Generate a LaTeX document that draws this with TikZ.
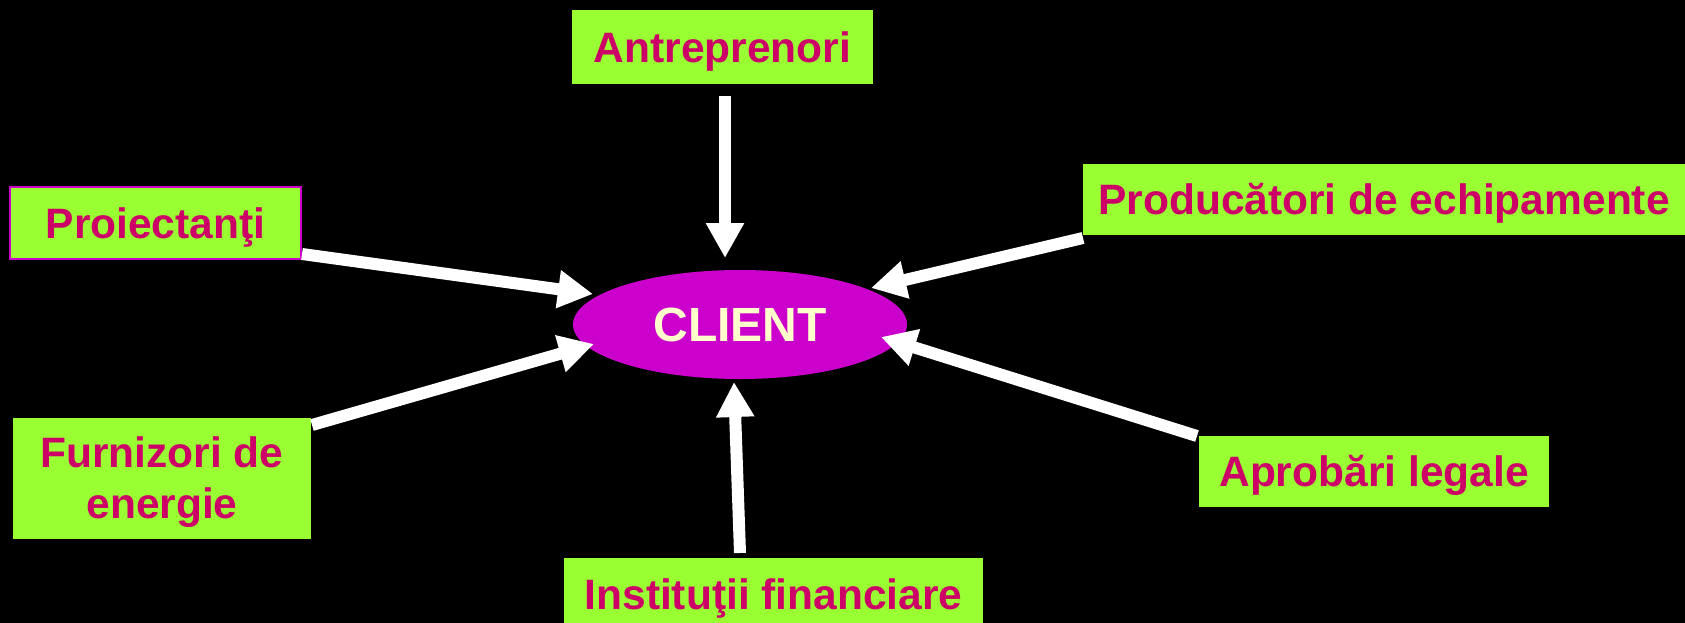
\documentclass[tikz,border=0pt]{standalone}
\usepackage{fontspec}
\setmainfont{Liberation Sans}
\usetikzlibrary{shapes.geometric,arrows.meta}
\definecolor{boxgreen}{HTML}{99FF33}
\definecolor{labelpink}{HTML}{CC0066}
\definecolor{clientmag}{HTML}{CC00CC}
\definecolor{clientcream}{HTML}{FFFFCC}
\tikzset{
  labelbox/.style={rectangle, fill=boxgreen, text=labelpink, inner sep=0pt,
    font=\fontsize{42.5}{51}\selectfont\bfseries},
  oneline/.style={labelbox, text height=30.5pt, text depth=0pt},
  flowarrow/.style={draw=white, line width=12pt,
    -{Triangle[length=35pt,width=36pt,fill=white]}},
}
\begin{document}
\begin{tikzpicture}[x=1pt,y=-1pt]
\fill[black] (0,0) rectangle (1685,623);
\useasboundingbox (0,0) rectangle (1685,623);

\node[ellipse, fill=clientmag, inner sep=0pt, minimum width=334pt, minimum height=109pt,
  text=clientcream, font=\fontsize{48}{56}\selectfont\bfseries,
  text height=34.5pt, text depth=0pt] (client) at (740,324.5) {CLIENT};

\node[oneline, minimum width=301pt, minimum height=74pt] (antre) at (722.5,47.5) {Antreprenori};
\node[oneline, draw=clientmag, line width=2pt, minimum width=291pt, minimum height=72pt] (proi) at (155.5,223) {Proiectan\c{t}i};
\node[labelbox, minimum width=298pt, minimum height=121pt, text height=81.5pt, text depth=0pt] (furn) at (162,478)
  {\begin{tabular}[b]{@{}c@{}}Furnizori de\\energie\end{tabular}};
\node[oneline, minimum width=602pt, minimum height=71pt] (prod) at (1384,199.5) {Produc\u{a}tori de echipamente};
\node[oneline, minimum width=350pt, minimum height=71pt] (aprob) at (1374,471.5) {Aprob\u{a}ri legale};
\node[oneline, minimum width=419pt, minimum height=73pt] (inst) at (773.5,594.5) {Institu\c{t}ii financiare};

% connector end points
\coordinate (antre-out) at (725,96);
\coordinate (client-n)  at (725,258);
\coordinate (proi-out)  at (302,254);
\coordinate (client-nw) at (593,294);
\coordinate (furn-out)  at (312,425);
\coordinate (client-sw) at (594,344);
\coordinate (prod-out)  at (1083,238);
\coordinate (client-ne) at (871,288);
\coordinate (aprob-out) at (1197,436);
\coordinate (client-se) at (881,337);
\coordinate (inst-out)  at (740,553);
\coordinate (client-s)  at (734,382);

\draw[flowarrow] (antre-out) -- (client-n);
\draw[flowarrow] (proi-out) -- (client-nw);
\draw[flowarrow] (furn-out) -- (client-sw);
\draw[flowarrow] (prod-out) -- (client-ne);
\draw[flowarrow] (aprob-out) -- (client-se);
\draw[flowarrow] (inst-out) -- (client-s);
\end{tikzpicture}
\end{document}
